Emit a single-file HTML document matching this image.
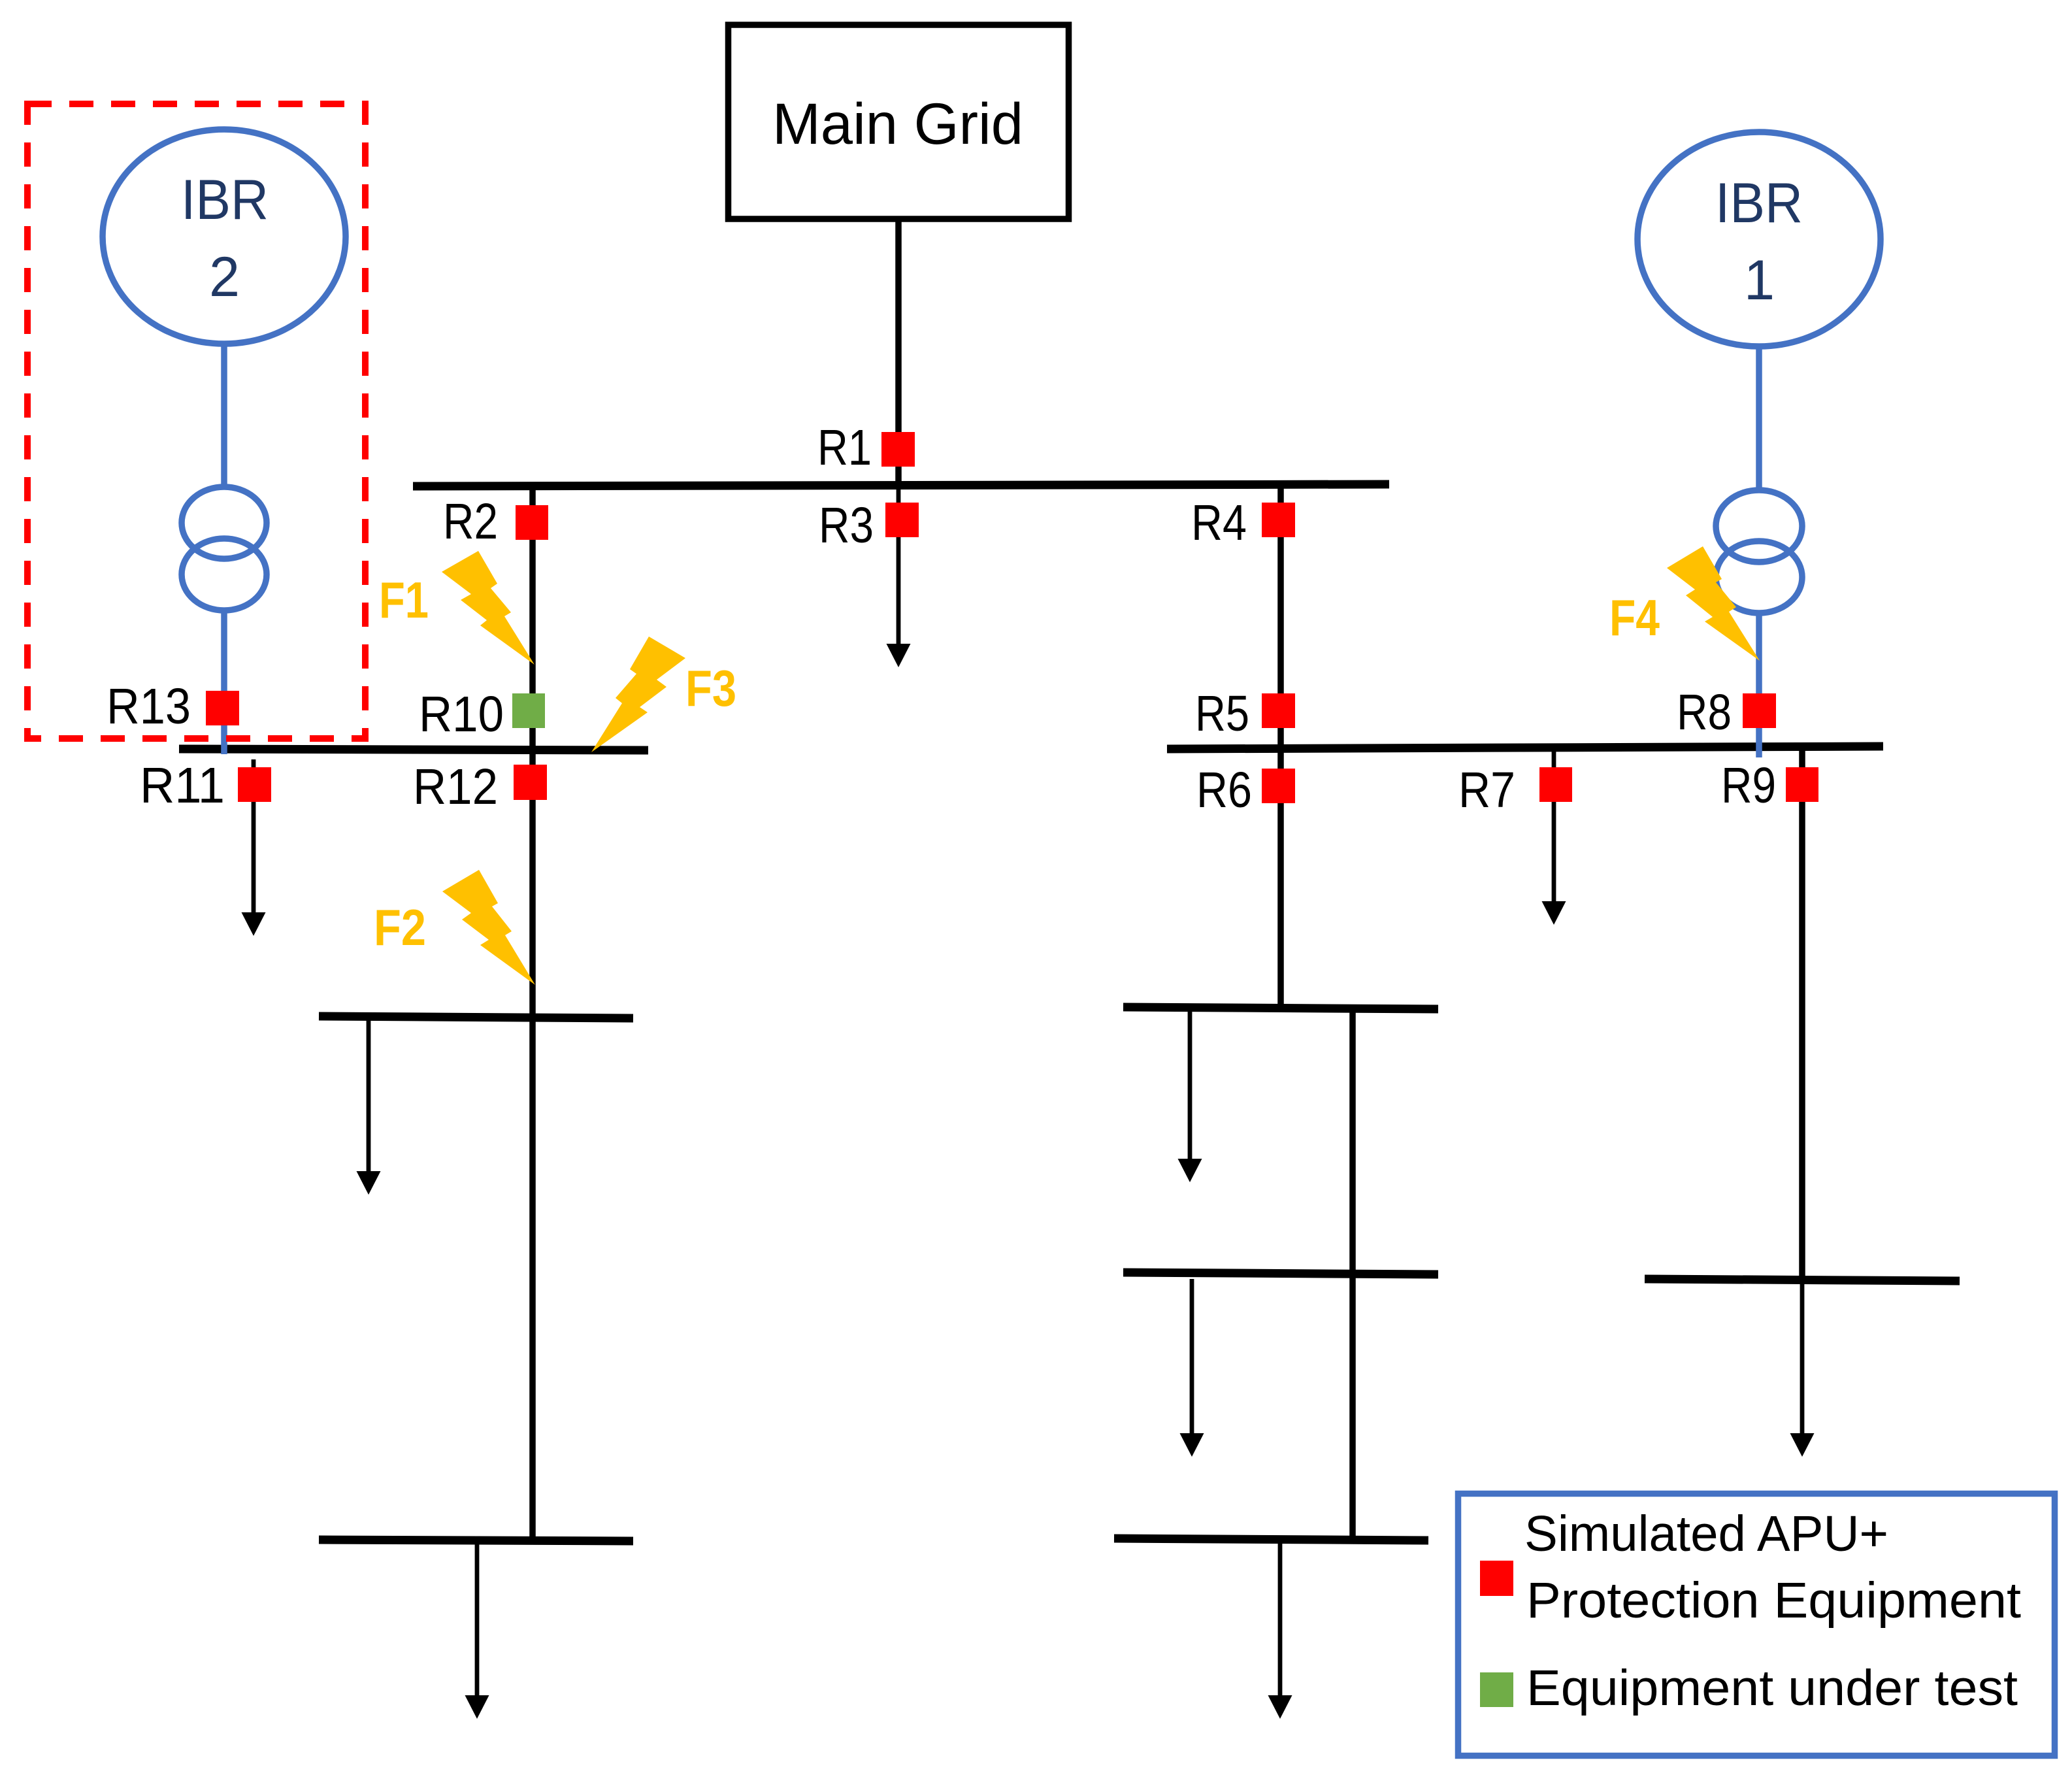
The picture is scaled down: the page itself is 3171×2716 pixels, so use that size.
<!DOCTYPE html>
<html><head><meta charset="utf-8"><style>
html,body{margin:0;padding:0;background:#fff}
svg{display:block}
text{font-family:"Liberation Sans",sans-serif;fill:#000;font-size:78px}
.f{font-weight:bold;fill:#FFC000}
.i{fill:#203864;font-size:86px}
.l{font-size:77px}
</style></head><body>
<svg xmlns="http://www.w3.org/2000/svg" width="3171" height="2716" viewBox="0 0 3171 2716">
<rect width="3171" height="2716" fill="#fff"/>
<defs><polygon id="a" points="-18.5,0 18.5,0 0,36" fill="#000"/></defs>

<!-- black lines -->
<g stroke="#000" fill="none">
<g stroke-width="13">
<line x1="632" y1="744" x2="2126" y2="741"/>
<line x1="274" y1="1146" x2="992" y2="1148"/>
<line x1="1786" y1="1146" x2="2882" y2="1142"/>
<line x1="488" y1="1555" x2="969" y2="1558"/>
<line x1="488" y1="2356" x2="969" y2="2358"/>
<line x1="1719" y1="1541" x2="2201" y2="1544"/>
<line x1="1719" y1="1947" x2="2201" y2="1950"/>
<line x1="1705" y1="2354" x2="2186" y2="2357"/>
<line x1="2517" y1="1957" x2="2999" y2="1960"/>
</g>
<g stroke-width="9.5">
<line x1="1375" y1="336" x2="1375" y2="744"/>
<line x1="815" y1="744" x2="815" y2="2356"/>
<line x1="1960" y1="742" x2="1960" y2="1541"/>
<line x1="2070" y1="1543" x2="2070" y2="2355"/>
<line x1="2758" y1="1145" x2="2758" y2="1958"/>
</g>
<g stroke-width="6.8">
<line x1="1375" y1="744" x2="1375" y2="990"/>
<line x1="388" y1="1162" x2="388" y2="1400"/>
<line x1="2378" y1="1145" x2="2378" y2="1382"/>
<line x1="564" y1="1557" x2="564" y2="1796"/>
<line x1="730" y1="2358" x2="730" y2="2597"/>
<line x1="1821" y1="1545" x2="1821" y2="1776"/>
<line x1="1824" y1="1957" x2="1824" y2="2196"/>
<line x1="1959" y1="2356" x2="1959" y2="2597"/>
<line x1="2758" y1="1958" x2="2758" y2="2196"/>
</g>
</g>
<use href="#a" x="1375" y="985"/>
<use href="#a" x="388" y="1396"/>
<use href="#a" x="2378" y="1379"/>
<use href="#a" x="564" y="1792"/>
<use href="#a" x="730" y="2594"/>
<use href="#a" x="1821" y="1773"/>
<use href="#a" x="1824" y="2193"/>
<use href="#a" x="1959" y="2594"/>
<use href="#a" x="2758" y="2193"/>

<!-- main grid -->
<rect x="1114.5" y="38" width="521" height="297" fill="#fff" stroke="#000" stroke-width="9.5"/>
<text x="1182" y="220" style="font-size:89px" textLength="384" lengthAdjust="spacingAndGlyphs">Main Grid</text>

<!-- IBR 2 -->
<g stroke="#4472C4" fill="none" stroke-width="9.5">
<line x1="343" y1="526" x2="343" y2="745"/>
<line x1="343" y1="934" x2="343" y2="1154"/>
<ellipse cx="343" cy="362" rx="186" ry="164"/>
<ellipse cx="343" cy="800" rx="65" ry="55"/>
<ellipse cx="343" cy="879" rx="65" ry="55"/>
</g>
<text class="i" x="277" y="335" textLength="134" lengthAdjust="spacingAndGlyphs">IBR</text>
<text class="i" x="320" y="453" textLength="47" lengthAdjust="spacingAndGlyphs">2</text>

<!-- IBR 1 -->
<g stroke="#4472C4" fill="none" stroke-width="9.5">
<line x1="2692" y1="530" x2="2692" y2="750"/>
<line x1="2692" y1="938" x2="2692" y2="1159"/>
<ellipse cx="2692" cy="366" rx="186" ry="164"/>
<ellipse cx="2692" cy="805" rx="66" ry="55"/>
<ellipse cx="2692" cy="883" rx="66" ry="55"/>
</g>
<text class="i" x="2625" y="340" textLength="134" lengthAdjust="spacingAndGlyphs">IBR</text>
<text class="i" x="2669" y="458" textLength="47" lengthAdjust="spacingAndGlyphs">1</text>

<!-- dashed -->
<path d="M42 159H559V1130H42Z" fill="none" stroke="#f00" stroke-width="10" stroke-dasharray="37 27"/>

<!-- squares -->
<g fill="#f00">
<rect x="1349" y="661" width="51" height="53"/>
<rect x="1355" y="769" width="51" height="53"/>
<rect x="789" y="773" width="50" height="53"/>
<rect x="1931" y="769" width="51" height="53"/>
<rect x="1931" y="1061" width="51" height="53"/>
<rect x="1931" y="1176" width="51" height="53"/>
<rect x="315" y="1057" width="51" height="53"/>
<rect x="364" y="1174" width="51" height="53"/>
<rect x="786" y="1170" width="51" height="54"/>
<rect x="2356" y="1174" width="50" height="53"/>
<rect x="2667" y="1061" width="51" height="53"/>
<rect x="2733" y="1174" width="50" height="53"/>
<rect x="2265" y="2388" width="51" height="54"/>
</g>
<rect x="784" y="1061" width="50" height="53" fill="#70AD47"/>
<rect x="2265" y="2559" width="51" height="53" fill="#70AD47"/>

<!-- lightning -->
<g fill="#FFC000">
<polygon points="676,875 732,843 761,893 751,900 782,937 772,943 818,1017 735,957 745,949 705,918 721,909"/>
<polygon points="677,1364 733,1331 762,1382 753,1387 783,1425 773,1431 819,1507 735,1446 748,1438 707,1407 721,1397"/>
<polygon points="993,974 1049,1007 1005,1040 1020,1051 979,1082 991,1090 905,1151 952,1076 942,1068 974,1031 964,1024"/>
<polygon points="2606,836 2635,886 2626,891 2657,929 2646,936 2693,1011 2609,951 2621,944 2580,911 2594,902 2551,869"/>
</g>
<text class="f" x="580" y="945" textLength="76" lengthAdjust="spacingAndGlyphs">F1</text>
<text class="f" x="572" y="1446" textLength="80" lengthAdjust="spacingAndGlyphs">F2</text>
<text class="f" x="1049" y="1080" textLength="78" lengthAdjust="spacingAndGlyphs">F3</text>
<text class="f" x="2463" y="972" textLength="77" lengthAdjust="spacingAndGlyphs">F4</text>

<!-- labels -->
<text class="l" x="1251" y="711" textLength="83" lengthAdjust="spacingAndGlyphs">R1</text>
<text class="l" x="678" y="824" textLength="84" lengthAdjust="spacingAndGlyphs">R2</text>
<text class="l" x="1253" y="830" textLength="84" lengthAdjust="spacingAndGlyphs">R3</text>
<text class="l" x="1823" y="826" textLength="85" lengthAdjust="spacingAndGlyphs">R4</text>
<text class="l" x="1829" y="1118" textLength="83" lengthAdjust="spacingAndGlyphs">R5</text>
<text class="l" x="1831" y="1235" textLength="85" lengthAdjust="spacingAndGlyphs">R6</text>
<text class="l" x="2232" y="1235" textLength="87" lengthAdjust="spacingAndGlyphs">R7</text>
<text class="l" x="2566" y="1116" textLength="84" lengthAdjust="spacingAndGlyphs">R8</text>
<text class="l" x="2634" y="1228" textLength="84" lengthAdjust="spacingAndGlyphs">R9</text>
<text class="l" x="641" y="1119" textLength="130" lengthAdjust="spacingAndGlyphs">R10</text>
<text class="l" x="214" y="1228" textLength="130" lengthAdjust="spacingAndGlyphs">R11</text>
<text class="l" x="632" y="1230" textLength="130" lengthAdjust="spacingAndGlyphs">R12</text>
<text class="l" x="163" y="1107" textLength="129" lengthAdjust="spacingAndGlyphs">R13</text>

<!-- legend -->
<rect x="2231.5" y="2285.5" width="913" height="401" fill="none" stroke="#4472C4" stroke-width="9.5"/>
<text class="l" x="2333" y="2373" textLength="557" lengthAdjust="spacingAndGlyphs">Simulated APU+</text>
<text class="l" x="2336" y="2475" textLength="757" lengthAdjust="spacingAndGlyphs">Protection Equipment</text>
<text class="l" x="2336" y="2609" textLength="752" lengthAdjust="spacingAndGlyphs">Equipment under test</text>
</svg>
</body></html>
